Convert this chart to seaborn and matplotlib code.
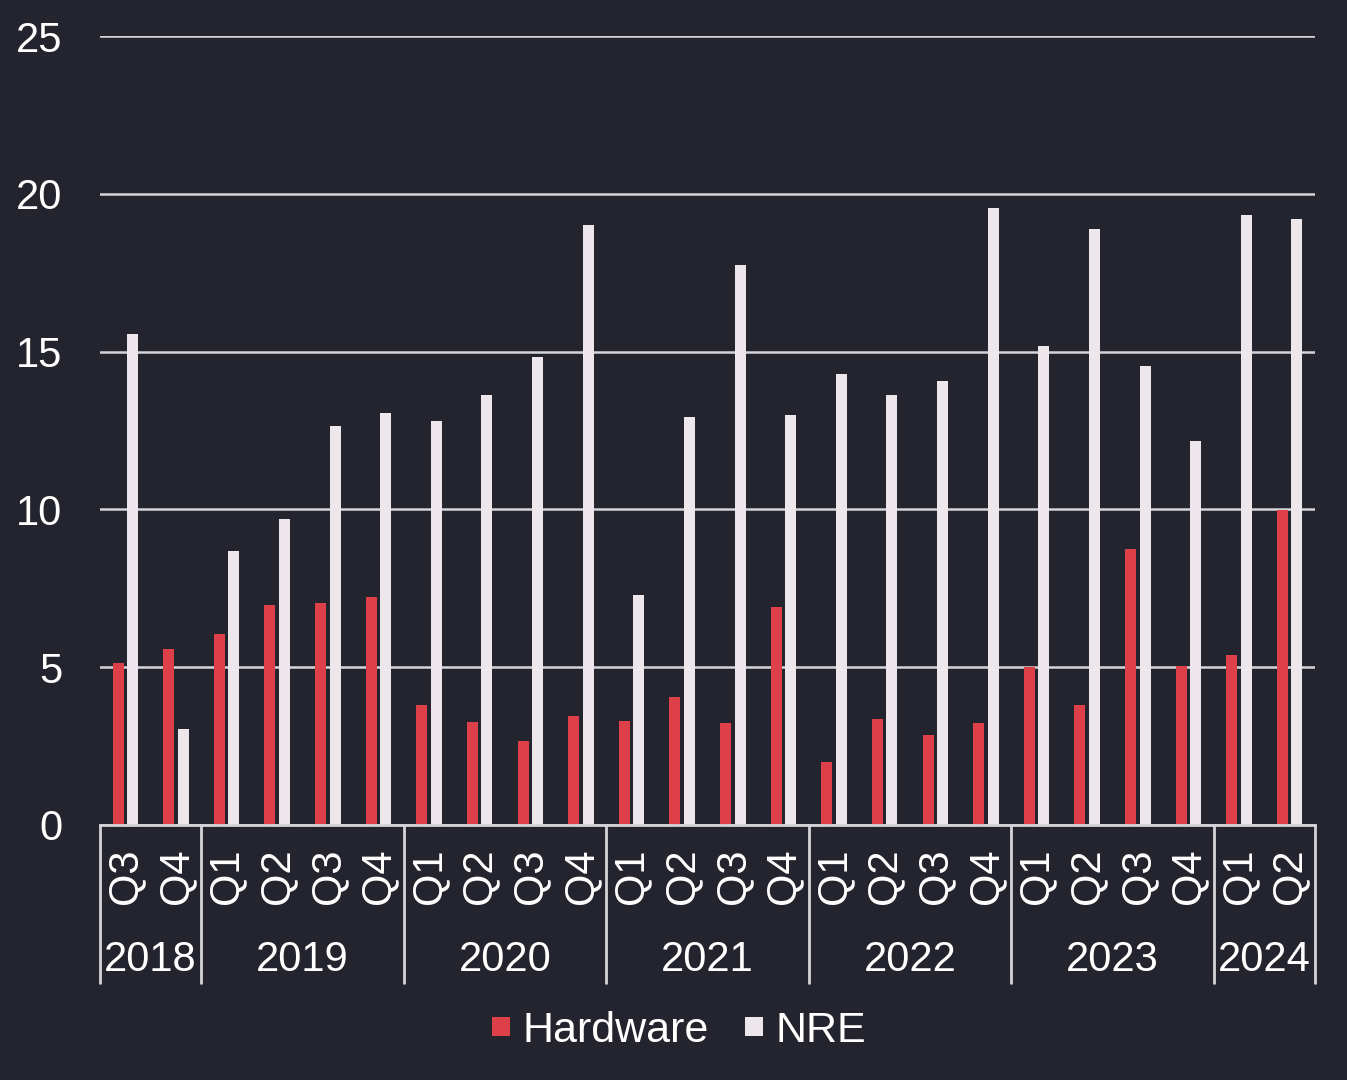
import matplotlib
matplotlib.use("Agg")
import matplotlib.pyplot as plt
import matplotlib.transforms as mtransforms
from matplotlib.lines import Line2D
from matplotlib.patches import Patch
import seaborn as sns
import pandas as pd

quarters = ["Q3", "Q4",
            "Q1", "Q2", "Q3", "Q4",
            "Q1", "Q2", "Q3", "Q4",
            "Q1", "Q2", "Q3", "Q4",
            "Q1", "Q2", "Q3", "Q4",
            "Q1", "Q2", "Q3", "Q4",
            "Q1", "Q2"]
years = ["2018"] * 2 + ["2019"] * 4 + ["2020"] * 4 + ["2021"] * 4 + \
        ["2022"] * 4 + ["2023"] * 4 + ["2024"] * 2
hardware = [5.13, 5.58, 6.05, 6.97, 7.03, 7.22, 3.80, 3.26, 2.66, 3.45,
            3.30, 4.06, 3.23, 6.91, 2.00, 3.36, 2.85, 3.23, 5.01, 3.80,
            8.75, 5.04, 5.39, 9.98]
nre = [15.56, 3.04, 8.68, 9.70, 12.64, 13.05, 12.80, 13.62, 14.83, 19.01,
       7.29, 12.93, 17.74, 12.99, 14.29, 13.62, 14.07, 19.55, 15.18, 18.88,
       14.54, 12.17, 19.33, 19.20]
series = ["Hardware", "NRE"]

BG = "#24242e"
RED = "#dd4048"
WHITE = "#ede6eb"
GRID = "#d4d4d8"
TXT = "#ffffff"

sns.set_theme(style="dark")
plt.rcParams["font.family"] = ["Liberation Sans", "DejaVu Sans"]

keys = [f"{y} {q}" for y, q in zip(years, quarters)]
df = pd.DataFrame({
    "key": keys * 2,
    "value": hardware + nre,
    "series": [series[0]] * len(keys) + [series[1]] * len(keys),
})

fig = plt.figure(figsize=(13.47, 10.8), dpi=100, facecolor=BG)
ax = fig.add_axes([100 / 1347, 1 - 825 / 1080, 1215 / 1347, 789 / 1080])
ax.set_facecolor(BG)

sns.barplot(data=df, x="key", y="value", hue="series", order=keys,
            hue_order=series, palette=[RED, WHITE], width=0.57, gap=0.24,
            saturation=1, edgecolor="none", linewidth=0, legend=False,
            ax=ax, zorder=3)

ax.set_xlim(-0.5, len(keys) - 0.5)
ax.set_ylim(0, 25)
ax.set_yticks([0, 5, 10, 15, 20, 25])
ax.set_yticklabels(["0", "5", "10", "15", "20", "25"])
ax.set_xlabel("")
ax.set_ylabel("")
ax.grid(False)
ax.yaxis.grid(True, color=GRID, linewidth=1.8, zorder=0)
ax.set_axisbelow(True)
for s in ["top", "left", "right"]:
    ax.spines[s].set_visible(False)
ax.spines["bottom"].set_color(GRID)
ax.spines["bottom"].set_linewidth(2)
ax.spines["bottom"].set_zorder(4)

ax.tick_params(axis="y", length=0, pad=27, labelsize=30, labelcolor=TXT)
ax.set_xticks(range(len(keys)))
ax.set_xticklabels(quarters, rotation=90)
ax.tick_params(axis="x", length=0, pad=17, labelsize=30, labelcolor=TXT)

# year labels and separators
trans = mtransforms.blended_transform_factory(ax.transData, fig.transFigure)
y_top = 1 - 825 / 1080
y_bot = 1 - 983 / 1080
y_year = 1 - 960 / 1080
groups = []
for i, y in enumerate(years):
    if groups and groups[-1][0] == y:
        groups[-1][2] = i
    else:
        groups.append([y, i, i])
bounds = [-0.5] + [g[2] + 0.5 for g in groups]
for b in bounds:
    fig.add_artist(Line2D([b, b], [y_top, y_bot], transform=trans,
                          color=GRID, linewidth=2))
for y, a, b in groups:
    fig.text((a + b) / 2, y_year, y, transform=trans, ha="center",
             va="center", fontsize=30, color=TXT)

handles = [Patch(facecolor=RED, edgecolor="none"),
           Patch(facecolor=WHITE, edgecolor="none")]
fig.legend(handles, series, loc="center", bbox_to_anchor=(0.504, 1 - 1031 / 1080),
           ncol=2, frameon=False, fontsize=31, labelcolor=TXT,
           handlelength=0.42, handleheight=0.27, handletextpad=0.28,
           columnspacing=0.85)

fig.savefig("out.png", dpi=100, facecolor=BG)
